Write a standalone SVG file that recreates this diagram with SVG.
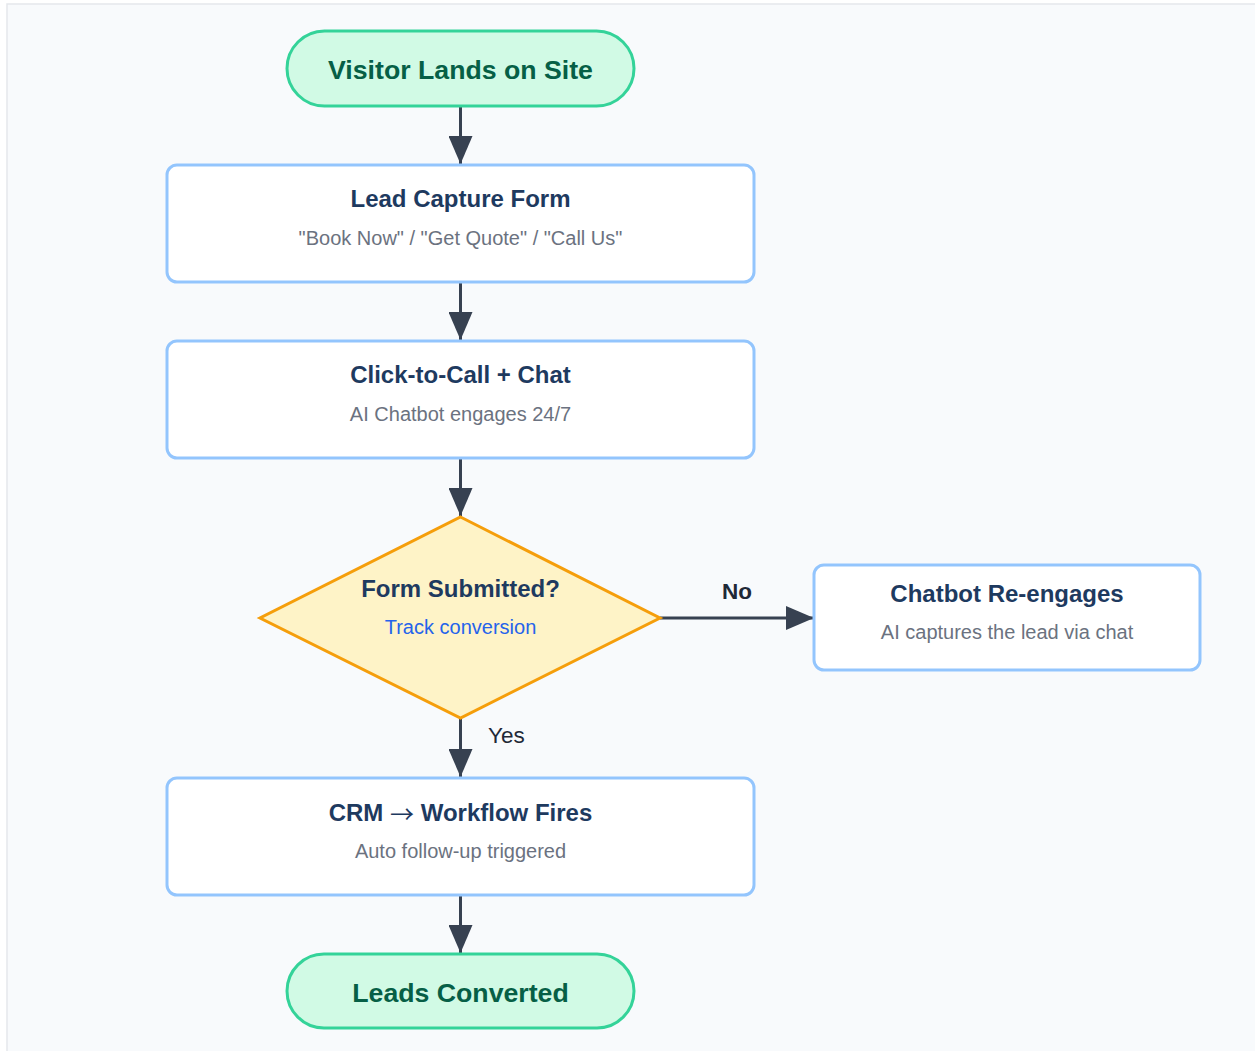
<svg xmlns="http://www.w3.org/2000/svg" width="1255" height="1051" viewBox="0 0 1255 1051">
<style>
.term rect{fill:#d1fae5;stroke:#34d399;stroke-width:3}
.term text{font-family:"Liberation Sans",Arial,sans-serif;font-weight:bold;font-size:26.7px;fill:#065f46;text-anchor:middle}
.proc rect{fill:#ffffff;stroke:#93c5fd;stroke-width:3}
.title{font-family:"Liberation Sans",Arial,sans-serif;font-weight:bold;font-size:24px;fill:#1e3a5f;text-anchor:middle}
.sub{font-family:"Liberation Sans",Arial,sans-serif;font-size:20px;fill:#6b7280;text-anchor:middle}
.dec polygon{fill:#fef3c7;stroke:#f59e0b;stroke-width:3}
.link{font-family:"Liberation Sans",Arial,sans-serif;font-size:20px;fill:#2563eb;text-anchor:middle}
.edges line{stroke:#374151;stroke-width:3}
.lbl{font-family:"Liberation Sans",Arial,sans-serif;font-size:22.5px;fill:#1f2937}
</style>
<defs>
<marker id="arr" viewBox="0 0 28 24" refX="28" refY="12" markerWidth="28" markerHeight="24" markerUnits="userSpaceOnUse" orient="auto">
<path d="M0,0 L28,12 L0,24 z" fill="#374151"/>
</marker>
</defs>
<rect x="7" y="4" width="1260" height="1060" fill="#f8fafc" stroke="#e5e7eb" stroke-width="1.5"/>
<g class="edges">
<line x1="460.5" y1="106" x2="460.5" y2="164" marker-end="url(#arr)"/>
<line x1="460.5" y1="282" x2="460.5" y2="340" marker-end="url(#arr)"/>
<line x1="460.5" y1="458" x2="460.5" y2="516" marker-end="url(#arr)"/>
<line x1="660" y1="618" x2="814" y2="618" marker-end="url(#arr)"/>
<line x1="460.5" y1="719" x2="460.5" y2="777" marker-end="url(#arr)"/>
<line x1="460.5" y1="895" x2="460.5" y2="953" marker-end="url(#arr)"/>
<text class="lbl" x="737" y="598.5" text-anchor="middle" font-weight="bold">No</text>
<text class="lbl" x="488" y="742.5" fill="#374151">Yes</text>
</g>
<g id="start" class="term">
<rect x="287" y="31" width="347" height="75" rx="37.5"/>
<text x="460.5" y="78.5">Visitor Lands on Site</text>
</g>
<g id="lead-form" class="proc">
<rect x="167" y="165" width="587" height="117" rx="10"/>
<text class="title" x="460.5" y="206.5">Lead Capture Form</text>
<text class="sub" x="460.5" y="244.5">"Book Now" / "Get Quote" / "Call Us"</text>
</g>
<g id="click-call" class="proc">
<rect x="167" y="341" width="587" height="117" rx="10"/>
<text class="title" x="460.5" y="382.5">Click-to-Call + Chat</text>
<text class="sub" x="460.5" y="420.5">AI Chatbot engages 24/7</text>
</g>
<g id="decision" class="dec">
<polygon points="460.5,517 660,618 460.5,718 260,618"/>
<text class="title" x="460.5" y="596.5">Form Submitted?</text>
<text class="link" x="460.5" y="634">Track conversion</text>
</g>
<g id="chatbot" class="proc">
<rect x="814" y="565" width="386" height="105" rx="10"/>
<text class="title" x="1007" y="601.5">Chatbot Re-engages</text>
<text class="sub" x="1007" y="639">AI captures the lead via chat</text>
</g>
<g id="crm" class="proc">
<rect x="167" y="778" width="587" height="117" rx="10"/>
<text class="title" x="460.5" y="820.5">CRM <tspan dy="2" font-family="'Noto Sans CJK SC',sans-serif" font-weight="normal">→</tspan><tspan dy="-2"> Workflow Fires</tspan></text>
<text class="sub" x="460.5" y="858">Auto follow-up triggered</text>
</g>
<g id="end" class="term">
<rect x="287" y="954" width="347" height="74" rx="37"/>
<text x="460.5" y="1001.5">Leads Converted</text>
</g>
</svg>
